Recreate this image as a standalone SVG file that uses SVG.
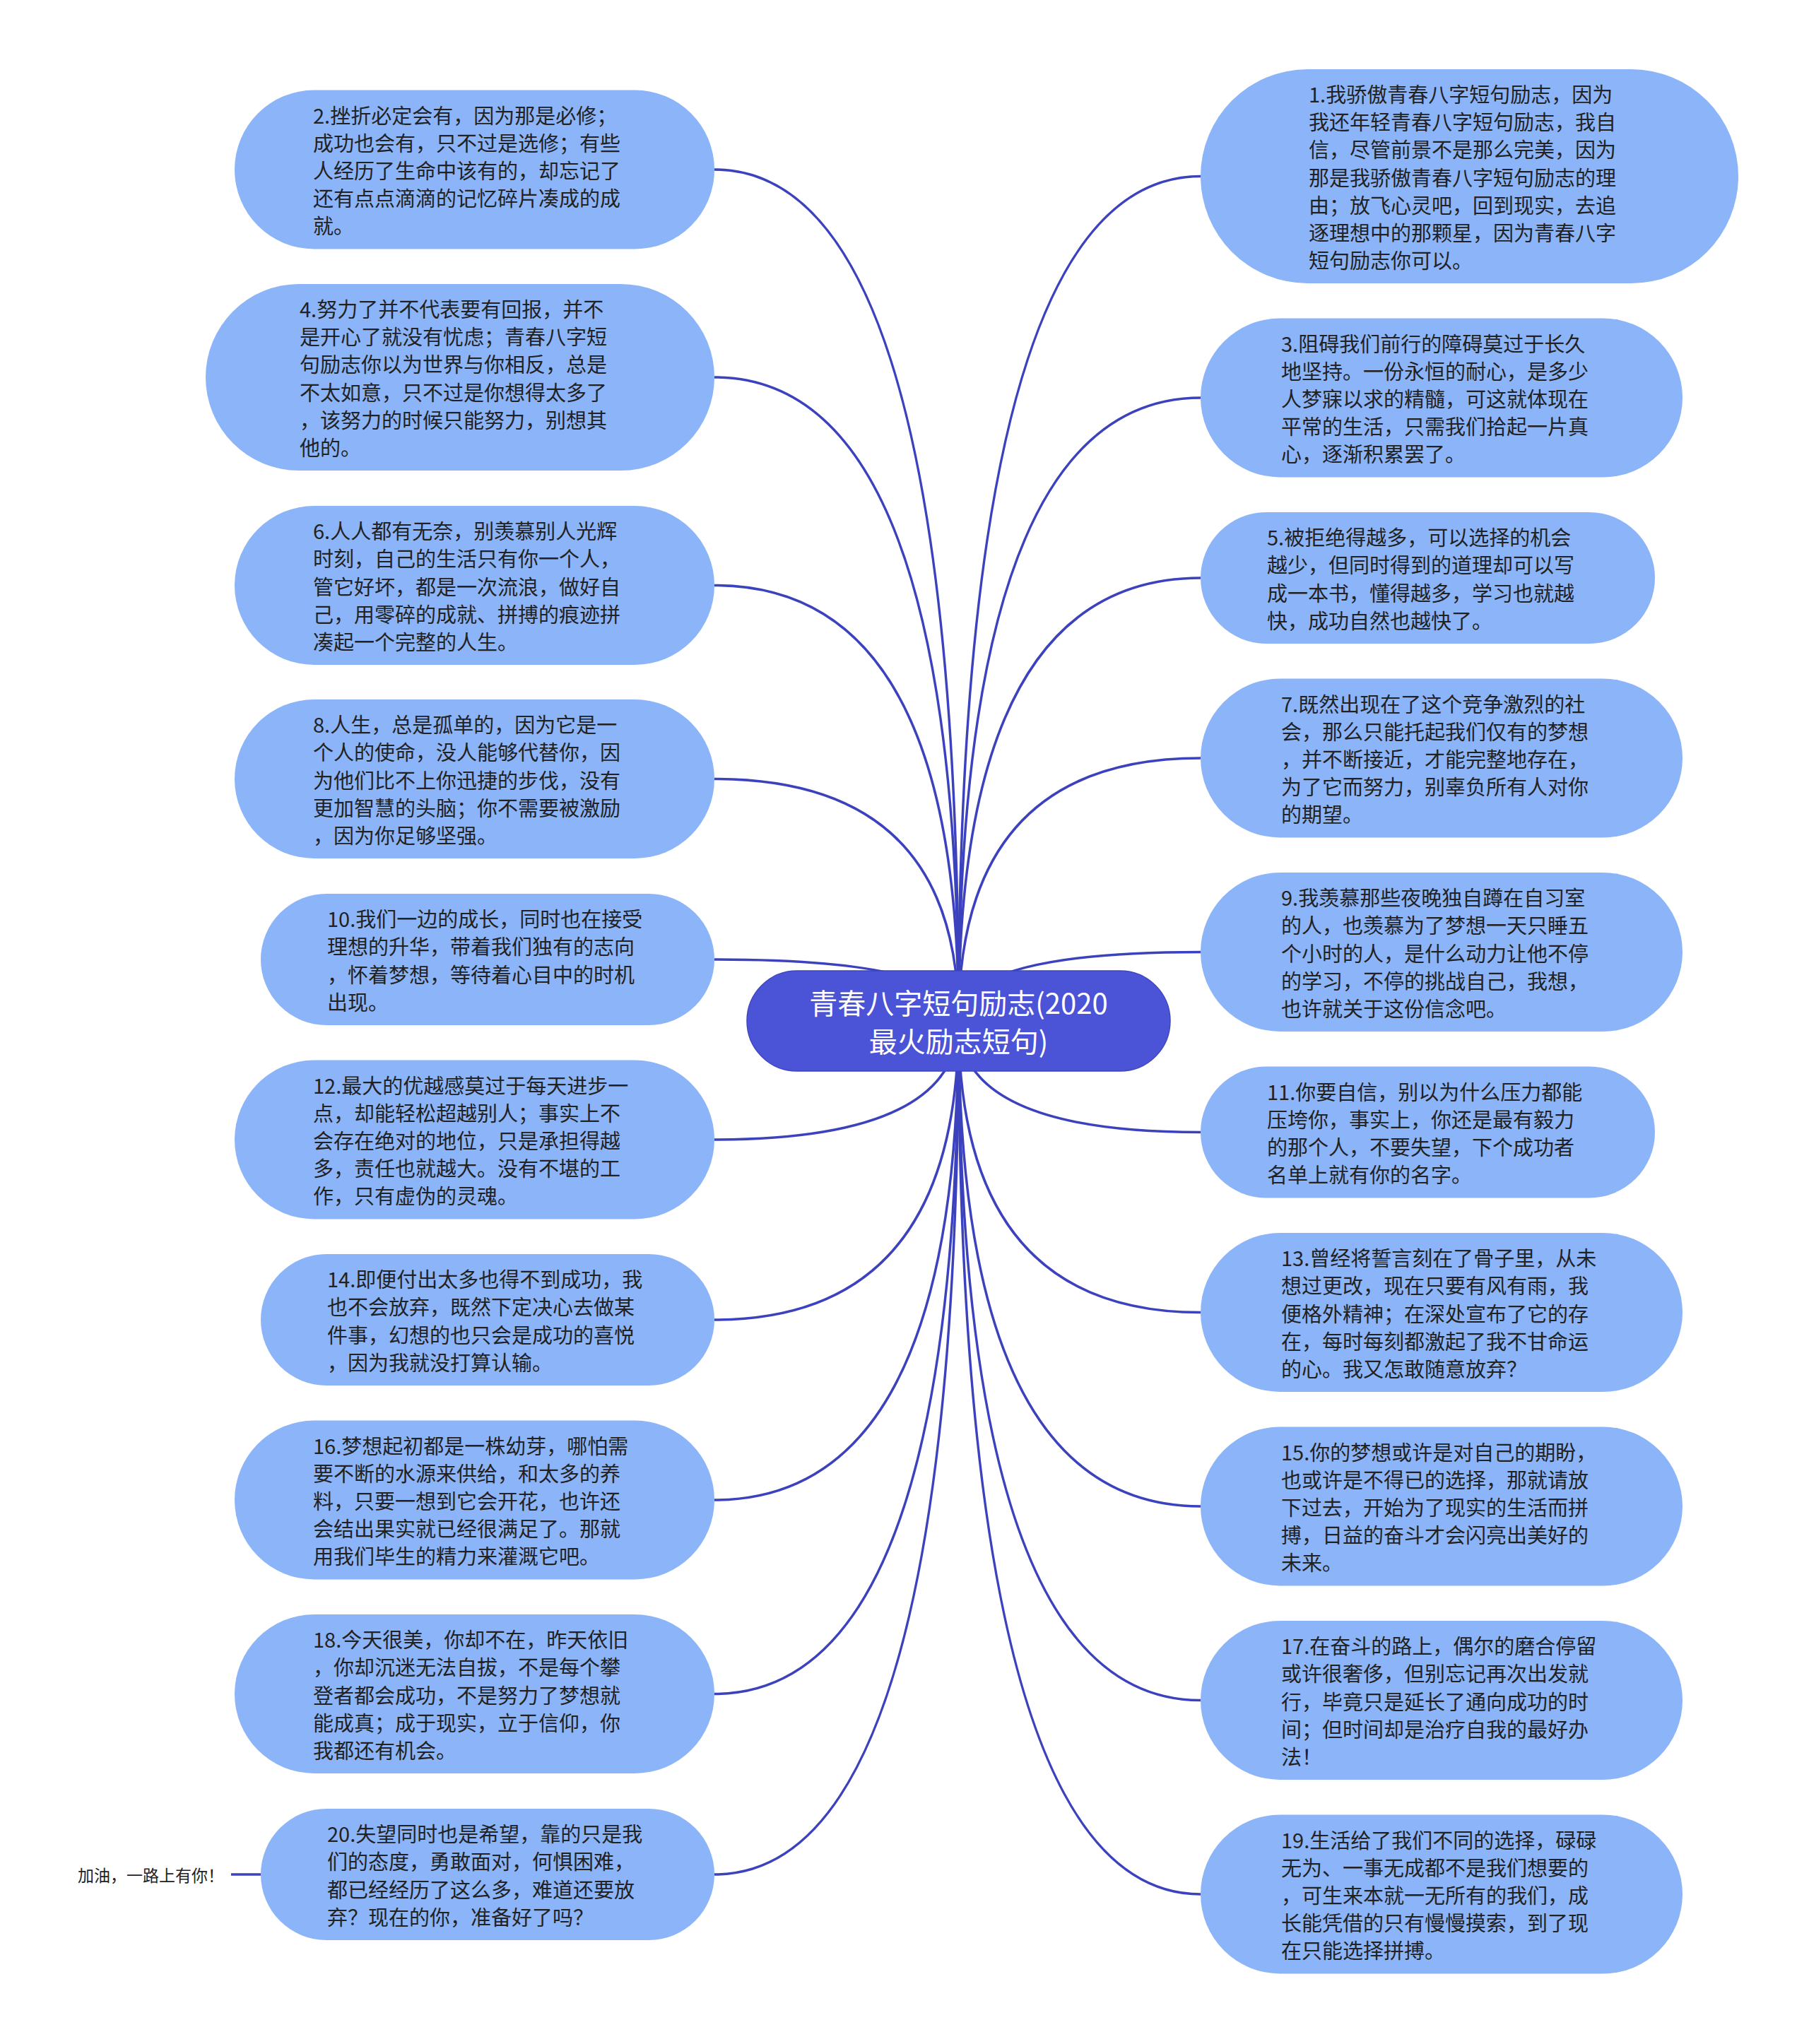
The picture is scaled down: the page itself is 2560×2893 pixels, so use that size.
<svg xmlns="http://www.w3.org/2000/svg" width="2560" height="2893" viewBox="0 0 2560 2893">
<style>
.bg{fill:#ffffff}
.link{fill:none;stroke:#3c42bd;stroke-width:3.5}
.leaf{fill:#8cb4f9}
.root{fill:#4b53d7;stroke:#3f46c0;stroke-width:1.5}
.t{font-family:"Noto Sans CJK SC","Noto Sans",sans-serif;font-size:29px;fill:#222222;dominant-baseline:central}
.rt{font-family:"Noto Sans CJK SC","Noto Sans",sans-serif;font-size:40px;fill:#ffffff;dominant-baseline:central;text-anchor:middle}
.lbl{font-family:"Noto Sans CJK SC","Noto Sans",sans-serif;font-size:23px;fill:#222222;dominant-baseline:central}
</style>
<rect class="bg" x="0" y="0" width="2560" height="2893"/>
<g id="connectors">
<path class="link" d="M1356.5 1445 Q1356.5 240 1011 240"/>
<path class="link" d="M1356.5 1445 Q1356.5 534 1011 534"/>
<path class="link" d="M1356.5 1445 Q1356.5 828.5 1011 828.5"/>
<path class="link" d="M1356.5 1445 Q1356.5 1102.5 1011 1102.5"/>
<path class="link" d="M1356.5 1445 Q1356.5 1358 1011 1358"/>
<path class="link" d="M1356.5 1445 Q1356.5 1613 1011 1613"/>
<path class="link" d="M1356.5 1445 Q1356.5 1868 1011 1868"/>
<path class="link" d="M1356.5 1445 Q1356.5 2123 1011 2123"/>
<path class="link" d="M1356.5 1445 Q1356.5 2397.5 1011 2397.5"/>
<path class="link" d="M1356.5 1445 Q1356.5 2653 1011 2653"/>
<path class="link" d="M1356.5 1445 Q1356.5 249.5 1699 249.5"/>
<path class="link" d="M1356.5 1445 Q1356.5 563 1699 563"/>
<path class="link" d="M1356.5 1445 Q1356.5 818 1699 818"/>
<path class="link" d="M1356.5 1445 Q1356.5 1073 1699 1073"/>
<path class="link" d="M1356.5 1445 Q1356.5 1347.5 1699 1347.5"/>
<path class="link" d="M1356.5 1445 Q1356.5 1602.5 1699 1602.5"/>
<path class="link" d="M1356.5 1445 Q1356.5 1857.5 1699 1857.5"/>
<path class="link" d="M1356.5 1445 Q1356.5 2132 1699 2132"/>
<path class="link" d="M1356.5 1445 Q1356.5 2406.5 1699 2406.5"/>
<path class="link" d="M1356.5 1445 Q1356.5 2681 1699 2681"/>
<path class="link" d="M327 2653 L369 2653"/>
</g>
<g id="root">
<rect class="root" x="1057" y="1374" width="599" height="142" rx="71"/>
<text class="rt"><tspan x="1356.5" y="1418">青春八字短句励志(2020</tspan><tspan x="1356.5" y="1472">最火励志短句)</tspan></text>
</g>
<g id="n2">
<rect class="leaf" x="332" y="127.5" width="679" height="225" rx="112.5"/>
<text class="t" y="240"><tspan x="443" dy="-78.4">2.挫折必定会有，因为那是必修；</tspan><tspan x="443" dy="39.2">成功也会有，只不过是选修；有些</tspan><tspan x="443" dy="39.2">人经历了生命中该有的，却忘记了</tspan><tspan x="443" dy="39.2">还有点点滴滴的记忆碎片凑成的成</tspan><tspan x="443" dy="39.2">就。</tspan></text>
</g>
<g id="n4">
<rect class="leaf" x="291" y="402" width="720" height="264" rx="132"/>
<text class="t" y="534"><tspan x="424" dy="-98">4.努力了并不代表要有回报，并不</tspan><tspan x="424" dy="39.2">是开心了就没有忧虑；青春八字短</tspan><tspan x="424" dy="39.2">句励志你以为世界与你相反，总是</tspan><tspan x="424" dy="39.2">不太如意，只不过是你想得太多了</tspan><tspan x="424" dy="39.2">，该努力的时候只能努力，别想其</tspan><tspan x="424" dy="39.2">他的。</tspan></text>
</g>
<g id="n6">
<rect class="leaf" x="332" y="716" width="679" height="225" rx="112.5"/>
<text class="t" y="828.5"><tspan x="443" dy="-78.4">6.人人都有无奈，别羡慕别人光辉</tspan><tspan x="443" dy="39.2">时刻，自己的生活只有你一个人，</tspan><tspan x="443" dy="39.2">管它好坏，都是一次流浪，做好自</tspan><tspan x="443" dy="39.2">己，用零碎的成就、拼搏的痕迹拼</tspan><tspan x="443" dy="39.2">凑起一个完整的人生。</tspan></text>
</g>
<g id="n8">
<rect class="leaf" x="332" y="990" width="679" height="225" rx="112.5"/>
<text class="t" y="1102.5"><tspan x="443" dy="-78.4">8.人生，总是孤单的，因为它是一</tspan><tspan x="443" dy="39.2">个人的使命，没人能够代替你，因</tspan><tspan x="443" dy="39.2">为他们比不上你迅捷的步伐，没有</tspan><tspan x="443" dy="39.2">更加智慧的头脑；你不需要被激励</tspan><tspan x="443" dy="39.2">，因为你足够坚强。</tspan></text>
</g>
<g id="n10">
<rect class="leaf" x="369" y="1265" width="642" height="186" rx="93"/>
<text class="t" y="1358"><tspan x="463" dy="-58.8">10.我们一边的成长，同时也在接受</tspan><tspan x="463" dy="39.2">理想的升华，带着我们独有的志向</tspan><tspan x="463" dy="39.2">，怀着梦想，等待着心目中的时机</tspan><tspan x="463" dy="39.2">出现。</tspan></text>
</g>
<g id="n12">
<rect class="leaf" x="332" y="1500.5" width="679" height="225" rx="112.5"/>
<text class="t" y="1613"><tspan x="443" dy="-78.4">12.最大的优越感莫过于每天进步一</tspan><tspan x="443" dy="39.2">点，却能轻松超越别人；事实上不</tspan><tspan x="443" dy="39.2">会存在绝对的地位，只是承担得越</tspan><tspan x="443" dy="39.2">多，责任也就越大。没有不堪的工</tspan><tspan x="443" dy="39.2">作，只有虚伪的灵魂。</tspan></text>
</g>
<g id="n14">
<rect class="leaf" x="369" y="1775" width="642" height="186" rx="93"/>
<text class="t" y="1868"><tspan x="463" dy="-58.8">14.即便付出太多也得不到成功，我</tspan><tspan x="463" dy="39.2">也不会放弃，既然下定决心去做某</tspan><tspan x="463" dy="39.2">件事，幻想的也只会是成功的喜悦</tspan><tspan x="463" dy="39.2">，因为我就没打算认输。</tspan></text>
</g>
<g id="n16">
<rect class="leaf" x="332" y="2010.5" width="679" height="225" rx="112.5"/>
<text class="t" y="2123"><tspan x="443" dy="-78.4">16.梦想起初都是一株幼芽，哪怕需</tspan><tspan x="443" dy="39.2">要不断的水源来供给，和太多的养</tspan><tspan x="443" dy="39.2">料，只要一想到它会开花，也许还</tspan><tspan x="443" dy="39.2">会结出果实就已经很满足了。那就</tspan><tspan x="443" dy="39.2">用我们毕生的精力来灌溉它吧。</tspan></text>
</g>
<g id="n18">
<rect class="leaf" x="332" y="2285" width="679" height="225" rx="112.5"/>
<text class="t" y="2397.5"><tspan x="443" dy="-78.4">18.今天很美，你却不在，昨天依旧</tspan><tspan x="443" dy="39.2">，你却沉迷无法自拔，不是每个攀</tspan><tspan x="443" dy="39.2">登者都会成功，不是努力了梦想就</tspan><tspan x="443" dy="39.2">能成真；成于现实，立于信仰，你</tspan><tspan x="443" dy="39.2">我都还有机会。</tspan></text>
</g>
<g id="n20">
<rect class="leaf" x="369" y="2560" width="642" height="186" rx="93"/>
<text class="t" y="2653"><tspan x="463" dy="-58.8">20.失望同时也是希望，靠的只是我</tspan><tspan x="463" dy="39.2">们的态度，勇敢面对，何惧困难，</tspan><tspan x="463" dy="39.2">都已经经历了这么多，难道还要放</tspan><tspan x="463" dy="39.2">弃？现在的你，准备好了吗？</tspan></text>
</g>
<g id="label20">
<text class="lbl" x="110" y="2653">加油，一路上有你！</text>
</g>
<g id="n1">
<rect class="leaf" x="1699" y="98" width="761" height="303" rx="151.5"/>
<text class="t" y="249.5"><tspan x="1852" dy="-117.6">1.我骄傲青春八字短句励志，因为</tspan><tspan x="1852" dy="39.2">我还年轻青春八字短句励志，我自</tspan><tspan x="1852" dy="39.2">信，尽管前景不是那么完美，因为</tspan><tspan x="1852" dy="39.2">那是我骄傲青春八字短句励志的理</tspan><tspan x="1852" dy="39.2">由；放飞心灵吧，回到现实，去追</tspan><tspan x="1852" dy="39.2">逐理想中的那颗星，因为青春八字</tspan><tspan x="1852" dy="39.2">短句励志你可以。</tspan></text>
</g>
<g id="n3">
<rect class="leaf" x="1699" y="450.5" width="682" height="225" rx="112.5"/>
<text class="t" y="563"><tspan x="1813" dy="-78.4">3.阻碍我们前行的障碍莫过于长久</tspan><tspan x="1813" dy="39.2">地坚持。一份永恒的耐心，是多少</tspan><tspan x="1813" dy="39.2">人梦寐以求的精髓，可这就体现在</tspan><tspan x="1813" dy="39.2">平常的生活，只需我们拾起一片真</tspan><tspan x="1813" dy="39.2">心，逐渐积累罢了。</tspan></text>
</g>
<g id="n5">
<rect class="leaf" x="1699" y="725" width="643" height="186" rx="93"/>
<text class="t" y="818"><tspan x="1793" dy="-58.8">5.被拒绝得越多，可以选择的机会</tspan><tspan x="1793" dy="39.2">越少，但同时得到的道理却可以写</tspan><tspan x="1793" dy="39.2">成一本书，懂得越多，学习也就越</tspan><tspan x="1793" dy="39.2">快，成功自然也越快了。</tspan></text>
</g>
<g id="n7">
<rect class="leaf" x="1699" y="960.5" width="682" height="225" rx="112.5"/>
<text class="t" y="1073"><tspan x="1813" dy="-78.4">7.既然出现在了这个竞争激烈的社</tspan><tspan x="1813" dy="39.2">会，那么只能托起我们仅有的梦想</tspan><tspan x="1813" dy="39.2">，并不断接近，才能完整地存在，</tspan><tspan x="1813" dy="39.2">为了它而努力，别辜负所有人对你</tspan><tspan x="1813" dy="39.2">的期望。</tspan></text>
</g>
<g id="n9">
<rect class="leaf" x="1699" y="1235" width="682" height="225" rx="112.5"/>
<text class="t" y="1347.5"><tspan x="1813" dy="-78.4">9.我羡慕那些夜晚独自蹲在自习室</tspan><tspan x="1813" dy="39.2">的人，也羡慕为了梦想一天只睡五</tspan><tspan x="1813" dy="39.2">个小时的人，是什么动力让他不停</tspan><tspan x="1813" dy="39.2">的学习，不停的挑战自己，我想，</tspan><tspan x="1813" dy="39.2">也许就关于这份信念吧。</tspan></text>
</g>
<g id="n11">
<rect class="leaf" x="1699" y="1509.5" width="643" height="186" rx="93"/>
<text class="t" y="1602.5"><tspan x="1793" dy="-58.8">11.你要自信，别以为什么压力都能</tspan><tspan x="1793" dy="39.2">压垮你，事实上，你还是最有毅力</tspan><tspan x="1793" dy="39.2">的那个人，不要失望，下个成功者</tspan><tspan x="1793" dy="39.2">名单上就有你的名字。</tspan></text>
</g>
<g id="n13">
<rect class="leaf" x="1699" y="1745" width="682" height="225" rx="112.5"/>
<text class="t" y="1857.5"><tspan x="1813" dy="-78.4">13.曾经将誓言刻在了骨子里，从未</tspan><tspan x="1813" dy="39.2">想过更改，现在只要有风有雨，我</tspan><tspan x="1813" dy="39.2">便格外精神；在深处宣布了它的存</tspan><tspan x="1813" dy="39.2">在，每时每刻都激起了我不甘命运</tspan><tspan x="1813" dy="39.2">的心。我又怎敢随意放弃？</tspan></text>
</g>
<g id="n15">
<rect class="leaf" x="1699" y="2019.5" width="682" height="225" rx="112.5"/>
<text class="t" y="2132"><tspan x="1813" dy="-78.4">15.你的梦想或许是对自己的期盼，</tspan><tspan x="1813" dy="39.2">也或许是不得已的选择，那就请放</tspan><tspan x="1813" dy="39.2">下过去，开始为了现实的生活而拼</tspan><tspan x="1813" dy="39.2">搏，日益的奋斗才会闪亮出美好的</tspan><tspan x="1813" dy="39.2">未来。</tspan></text>
</g>
<g id="n17">
<rect class="leaf" x="1699" y="2294" width="682" height="225" rx="112.5"/>
<text class="t" y="2406.5"><tspan x="1813" dy="-78.4">17.在奋斗的路上，偶尔的磨合停留</tspan><tspan x="1813" dy="39.2">或许很奢侈，但别忘记再次出发就</tspan><tspan x="1813" dy="39.2">行，毕竟只是延长了通向成功的时</tspan><tspan x="1813" dy="39.2">间；但时间却是治疗自我的最好办</tspan><tspan x="1813" dy="39.2">法！</tspan></text>
</g>
<g id="n19">
<rect class="leaf" x="1699" y="2568.5" width="682" height="225" rx="112.5"/>
<text class="t" y="2681"><tspan x="1813" dy="-78.4">19.生活给了我们不同的选择，碌碌</tspan><tspan x="1813" dy="39.2">无为、一事无成都不是我们想要的</tspan><tspan x="1813" dy="39.2">，可生来本就一无所有的我们，成</tspan><tspan x="1813" dy="39.2">长能凭借的只有慢慢摸索，到了现</tspan><tspan x="1813" dy="39.2">在只能选择拼搏。</tspan></text>
</g>
</svg>
